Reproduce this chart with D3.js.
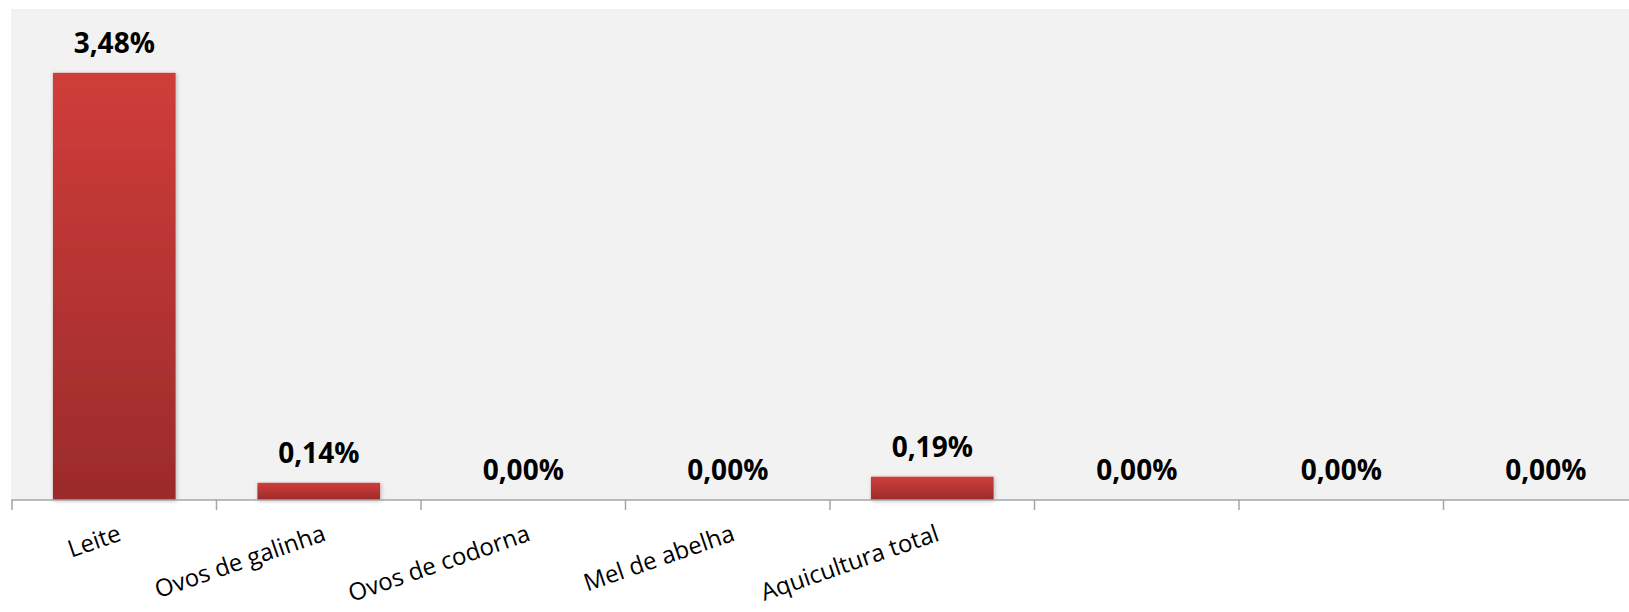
<!DOCTYPE html>
<html>
<head>
<meta charset="utf-8">
<script src="https://cdn.jsdelivr.net/npm/d3@7"></script>
<style>
  html, body { margin: 0; padding: 0; background: #fff; overflow: hidden; }
  svg { display: block; }
</style>
</head>
<body>
<div id="chart"></div>
<script>
// categories (the last three have no label in the source)
const categories = ['Leite', 'Ovos de galinha', 'Ovos de codorna', 'Mel de abelha', 'Aquicultura total', '', '', ''];
const values = [3.48, 0.14, 0.0, 0.0, 0.19, 0.0, 0.0, 0.0];
const valueLabels = ['3,48%', '0,14%', '0,00%', '0,00%', '0,19%', '0,00%', '0,00%', '0,00%'];
const yMax = 4;

const width = 1629, height = 612;
const plotLeft = 12, bandStep = 204.5, plotTop = 9, axisY = 500;

const svg = d3.select('#chart').append('svg').attr('width', width).attr('height', height);

const defs = svg.append('defs');
const grad = defs.append('linearGradient').attr('id', 'barGrad')
  .attr('x1', 0).attr('y1', 0).attr('x2', 0).attr('y2', 1);
grad.append('stop').attr('offset', '0%').attr('stop-color', '#d03d3a');
grad.append('stop').attr('offset', '100%').attr('stop-color', '#9b2b2b');

const shadow = defs.append('filter').attr('id', 'shadow')
  .attr('x', '-10%').attr('y', '-10%').attr('width', '130%').attr('height', '130%');
shadow.append('feDropShadow').attr('dx', 1).attr('dy', 1).attr('stdDeviation', 2)
  .attr('flood-color', '#000').attr('flood-opacity', 0.25);

const idx = categories.map((d, i) => i);

const x = d3.scaleBand()
  .domain(idx)
  .range([plotLeft, plotLeft + bandStep * categories.length])
  .paddingInner(0.4)
  .paddingOuter(0.2);

const y = d3.scaleLinear().domain([0, yMax]).range([axisY, plotTop]);

// plot area
svg.append('rect')
  .attr('x', plotLeft - 1).attr('y', plotTop)
  .attr('width', width - plotLeft + 1).attr('height', axisY - plotTop)
  .attr('fill', '#f2f2f2');

// bars
svg.selectAll('rect.bar')
  .data(values)
  .enter()
  .append('rect')
  .attr('class', 'bar')
  .attr('x', (d, i) => x(i))
  .attr('y', (d) => y(d))
  .attr('width', x.bandwidth())
  .attr('height', (d) => axisY - y(d))
  .attr('fill', 'url(#barGrad)')
  .attr('filter', 'url(#shadow)')
  .style('display', (d) => (d > 0 ? null : 'none'));

// x axis (ticks on band boundaries)
const axis = svg.append('g');
axis.append('line')
  .attr('x1', plotLeft - 1).attr('x2', width)
  .attr('y1', axisY).attr('y2', axisY)
  .attr('stroke', '#a6a6a6').attr('stroke-width', 1.5);
axis.selectAll('line.tick')
  .data(idx)
  .enter()
  .append('line')
  .attr('class', 'tick')
  .attr('x1', (i) => plotLeft + i * bandStep)
  .attr('x2', (i) => plotLeft + i * bandStep)
  .attr('y1', axisY).attr('y2', axisY + 10)
  .attr('stroke', '#a6a6a6').attr('stroke-width', 1.5);

// value labels
svg.selectAll('text.val')
  .data(values)
  .enter()
  .append('text')
  .attr('class', 'val')
  .attr('x', (d, i) => x(i) + x.bandwidth() / 2)
  .attr('y', (d) => y(d) - 20)
  .attr('text-anchor', 'middle')
  .attr('font-family', 'Open Sans, sans-serif')
  .attr('font-weight', 700)
  .attr('font-size', 28)
  .attr('fill', '#000')
  .text((d, i) => valueLabels[i]);

// category labels, rotated
svg.selectAll('text.cat')
  .data(categories)
  .enter()
  .append('text')
  .attr('class', 'cat')
  .attr('transform', (d, i) => `translate(${x(i) + x.bandwidth() / 2 + 2},${axisY + 22}) rotate(-19)`)
  .attr('dy', '0.8em')
  .attr('text-anchor', 'end')
  .attr('font-family', 'Open Sans, sans-serif')
  .attr('font-size', 24)
  .attr('fill', '#000')
  .text((d) => d);
</script>
</body>
</html>
